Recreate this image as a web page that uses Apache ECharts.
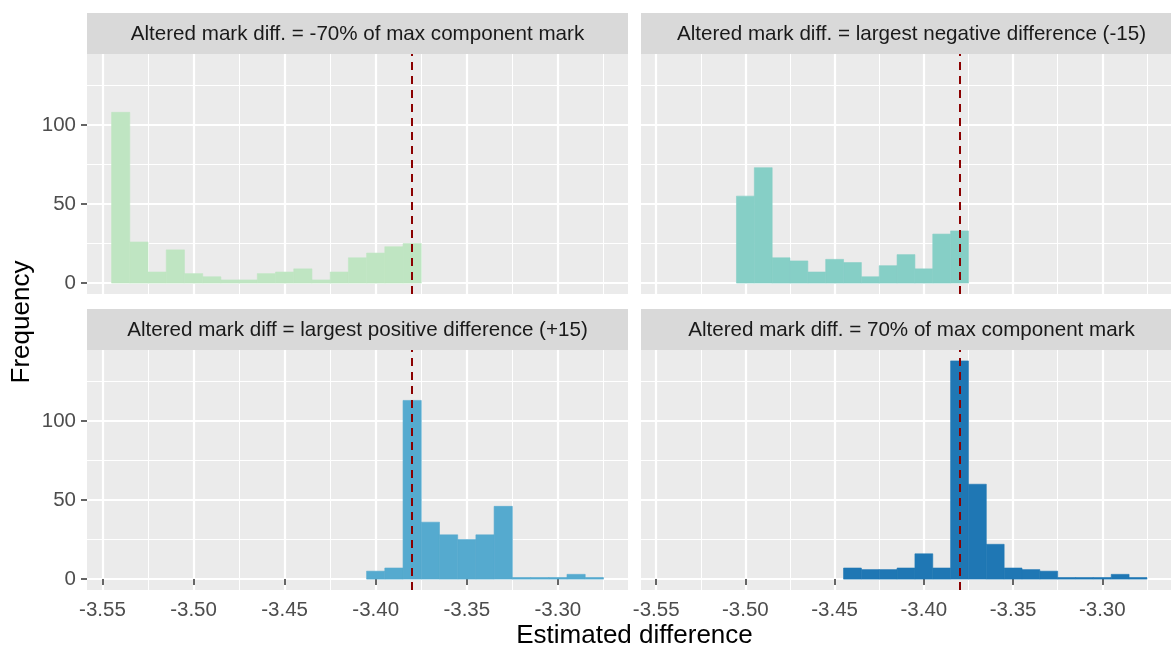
<!DOCTYPE html>
<html>
<head>
<meta charset="utf-8">
<script src="https://cdn.jsdelivr.net/npm/echarts@6/dist/echarts.min.js"></script>
<style>html,body{margin:0;padding:0;background:#fff}#c{width:1171px;height:648px}</style>
</head>
<body>
<div id="c"></div>
<script>
// ---------- data ----------
const panelTitles = [
  'Altered mark diff. = -70% of max component mark',
  'Altered mark diff. = largest negative difference (-15)',
  'Altered mark diff = largest positive difference (+15)',
  'Altered mark diff. = 70% of max component mark'
];
const binWidth = 0.01;

const centersTL = [-3.54, -3.53, -3.52, -3.51, -3.50, -3.49, -3.48, -3.47, -3.46, -3.45, -3.44, -3.43, -3.42, -3.41, -3.40, -3.39, -3.38];
const countsTL  = [108, 26, 7, 21, 6, 4, 2, 2, 6, 7, 9, 2, 7, 16, 19, 23, 25];

const centersTR = [-3.50, -3.49, -3.48, -3.47, -3.46, -3.45, -3.44, -3.43, -3.42, -3.41, -3.40, -3.39, -3.38];
const countsTR  = [55, 73, 16, 14, 7, 15, 13, 4, 11, 18, 9, 31, 33];

const centersBL = [-3.40, -3.39, -3.38, -3.37, -3.36, -3.35, -3.34, -3.33, -3.32, -3.31, -3.30, -3.29, -3.28];
const countsBL  = [5, 7, 113, 36, 28, 25, 28, 46, 1, 1, 1, 3, 1];

const centersBR = [-3.44, -3.43, -3.42, -3.41, -3.40, -3.39, -3.38, -3.37, -3.36, -3.35, -3.34, -3.33, -3.32, -3.31, -3.30, -3.29, -3.28];
const countsBR  = [7, 6, 6, 7, 16, 7, 138, 60, 22, 7, 6, 5, 1, 1, 1, 3, 1];

const refLine = -3.38;

const xTicks = [-3.55, -3.50, -3.45, -3.40, -3.35, -3.30];
const xMinorTicks = [-3.525, -3.475, -3.425, -3.375, -3.325, -3.275];
const yTicks = [0, 50, 100];
const yMinorTicks = [25, 75, 125];
const xRange = [-3.5585, -3.2615];
const yRange = [-6.9, 144.9];

const xTitle = 'Estimated difference';
const yTitle = 'Frequency';

// ---------- styling / layout ----------
const colors = ['#BFE5C2', '#86CFC6', '#55AACF', '#1F77B4'];
const FONT = '"Liberation Sans", Arial, sans-serif';
const PW = 541, PH = 240, STRIP_H = 41;
const panels = [
  {left: 87, top: 54, xLabels: false, yLabels: true},
  {left: 641, top: 54, xLabels: false, yLabels: false},
  {left: 87, top: 350, xLabels: true, yLabels: true},
  {left: 641, top: 350, xLabels: true, yLabels: false}
];
const panelData = [
  [centersTL, countsTL], [centersTR, countsTR], [centersBL, countsBL], [centersBR, countsBR]
];

const grid = [], xAxis = [], yAxis = [], series = [], graphic = [];
panels.forEach((p, i) => {
  grid.push({left: p.left, top: p.top, width: PW, height: PH, show: true,
    backgroundColor: '#EBEBEB', borderWidth: 0, containLabel: false});
  xAxis.push({type: 'value', gridIndex: i, min: xRange[0], max: xRange[1], position: 'bottom',
    axisLine: {show: false},
    axisTick: {show: p.xLabels, customValues: xTicks, length: 6, lineStyle: {color: '#333333', width: 1.5}},
    axisLabel: {show: p.xLabels, customValues: xTicks, formatter: v => v.toFixed(2),
      color: '#4D4D4D', fontSize: 20.5, fontFamily: FONT, margin: 10},
    splitLine: {show: true, lineStyle: {color: '#FFFFFF', width: 2.2}}
  });
  xAxis.push({type: 'value', gridIndex: i, min: xRange[0], max: xRange[1], position: 'bottom',
    axisLine: {show: false},
    axisTick: {show: false, customValues: xMinorTicks},
    axisLabel: {show: false, customValues: xMinorTicks},
    splitLine: {show: true, lineStyle: {color: '#FFFFFF', width: 1.1}}
  });
  yAxis.push({type: 'value', gridIndex: i, min: yRange[0], max: yRange[1], position: 'left',
    axisLine: {show: false},
    axisTick: {show: p.yLabels, customValues: yTicks, length: 6, lineStyle: {color: '#333333', width: 1.5}},
    axisLabel: {show: p.yLabels, customValues: yTicks, color: '#4D4D4D', fontSize: 20.5, fontFamily: FONT, margin: 11},
    splitLine: {show: true, lineStyle: {color: '#FFFFFF', width: 2.2}}
  });
  yAxis.push({type: 'value', gridIndex: i, min: yRange[0], max: yRange[1], position: 'left',
    axisLine: {show: false},
    axisTick: {show: false, customValues: yMinorTicks},
    axisLabel: {show: false, customValues: yMinorTicks},
    splitLine: {show: true, lineStyle: {color: '#FFFFFF', width: 1.1}}
  });

  const [centers, counts] = panelData[i];
  const col = colors[i];
  series.push({
    type: 'custom',
    coordinateSystem: 'cartesian2d',
    xAxisIndex: 2 * i, yAxisIndex: 2 * i,
    clip: true,
    encode: {x: 0, y: 1},
    data: centers.map((c, k) => [c, counts[k]]),
    renderItem: (params, api) => {
      const c = api.value(0), n = api.value(1);
      const p0 = api.coord([c - binWidth / 2, n]);
      const p1 = api.coord([c + binWidth / 2, 0]);
      return {type: 'rect',
        shape: {x: p0[0], y: p0[1], width: p1[0] - p0[0], height: p1[1] - p0[1]},
        style: {fill: col, stroke: col, lineWidth: 0.6}};
    },
    markLine: {
      silent: true, symbol: ['none', 'none'], label: {show: false},
      lineStyle: {color: '#8B0000', width: 2, type: [8, 6]},
      emphasis: {disabled: true},
      data: [{xAxis: refLine}]
    }
  });

  graphic.push({type: 'rect', left: p.left, top: p.top - STRIP_H,
    shape: {x: 0, y: 0, width: PW, height: STRIP_H}, style: {fill: '#D9D9D9'}, silent: true});
  graphic.push({type: 'text', x: p.left + PW / 2, y: p.top - STRIP_H / 2 + 1, silent: true,
    style: {text: panelTitles[i], fill: '#1A1A1A', fontSize: 20.6, fontFamily: FONT,
      align: 'center', verticalAlign: 'middle', textAlign: 'center', textVerticalAlign: 'middle'}});
});

graphic.push({type: 'text', x: (87 + 641 + PW) / 2, y: 636, silent: true,
  style: {text: xTitle, fill: '#000000', fontSize: 26, fontFamily: FONT,
    align: 'center', verticalAlign: 'middle', textAlign: 'center', textVerticalAlign: 'middle'}});
graphic.push({type: 'text', x: 22, y: 322, rotation: Math.PI / 2, silent: true,
  style: {text: yTitle, fill: '#000000', fontSize: 26, fontFamily: FONT,
    align: 'center', verticalAlign: 'middle', textAlign: 'center', textVerticalAlign: 'middle'}});

const chart = echarts.init(document.getElementById('c'), null, {renderer: 'canvas'});
chart.setOption({
  animation: false,
  backgroundColor: '#FFFFFF',
  grid, xAxis, yAxis, series, graphic
});
</script>
</body>
</html>
